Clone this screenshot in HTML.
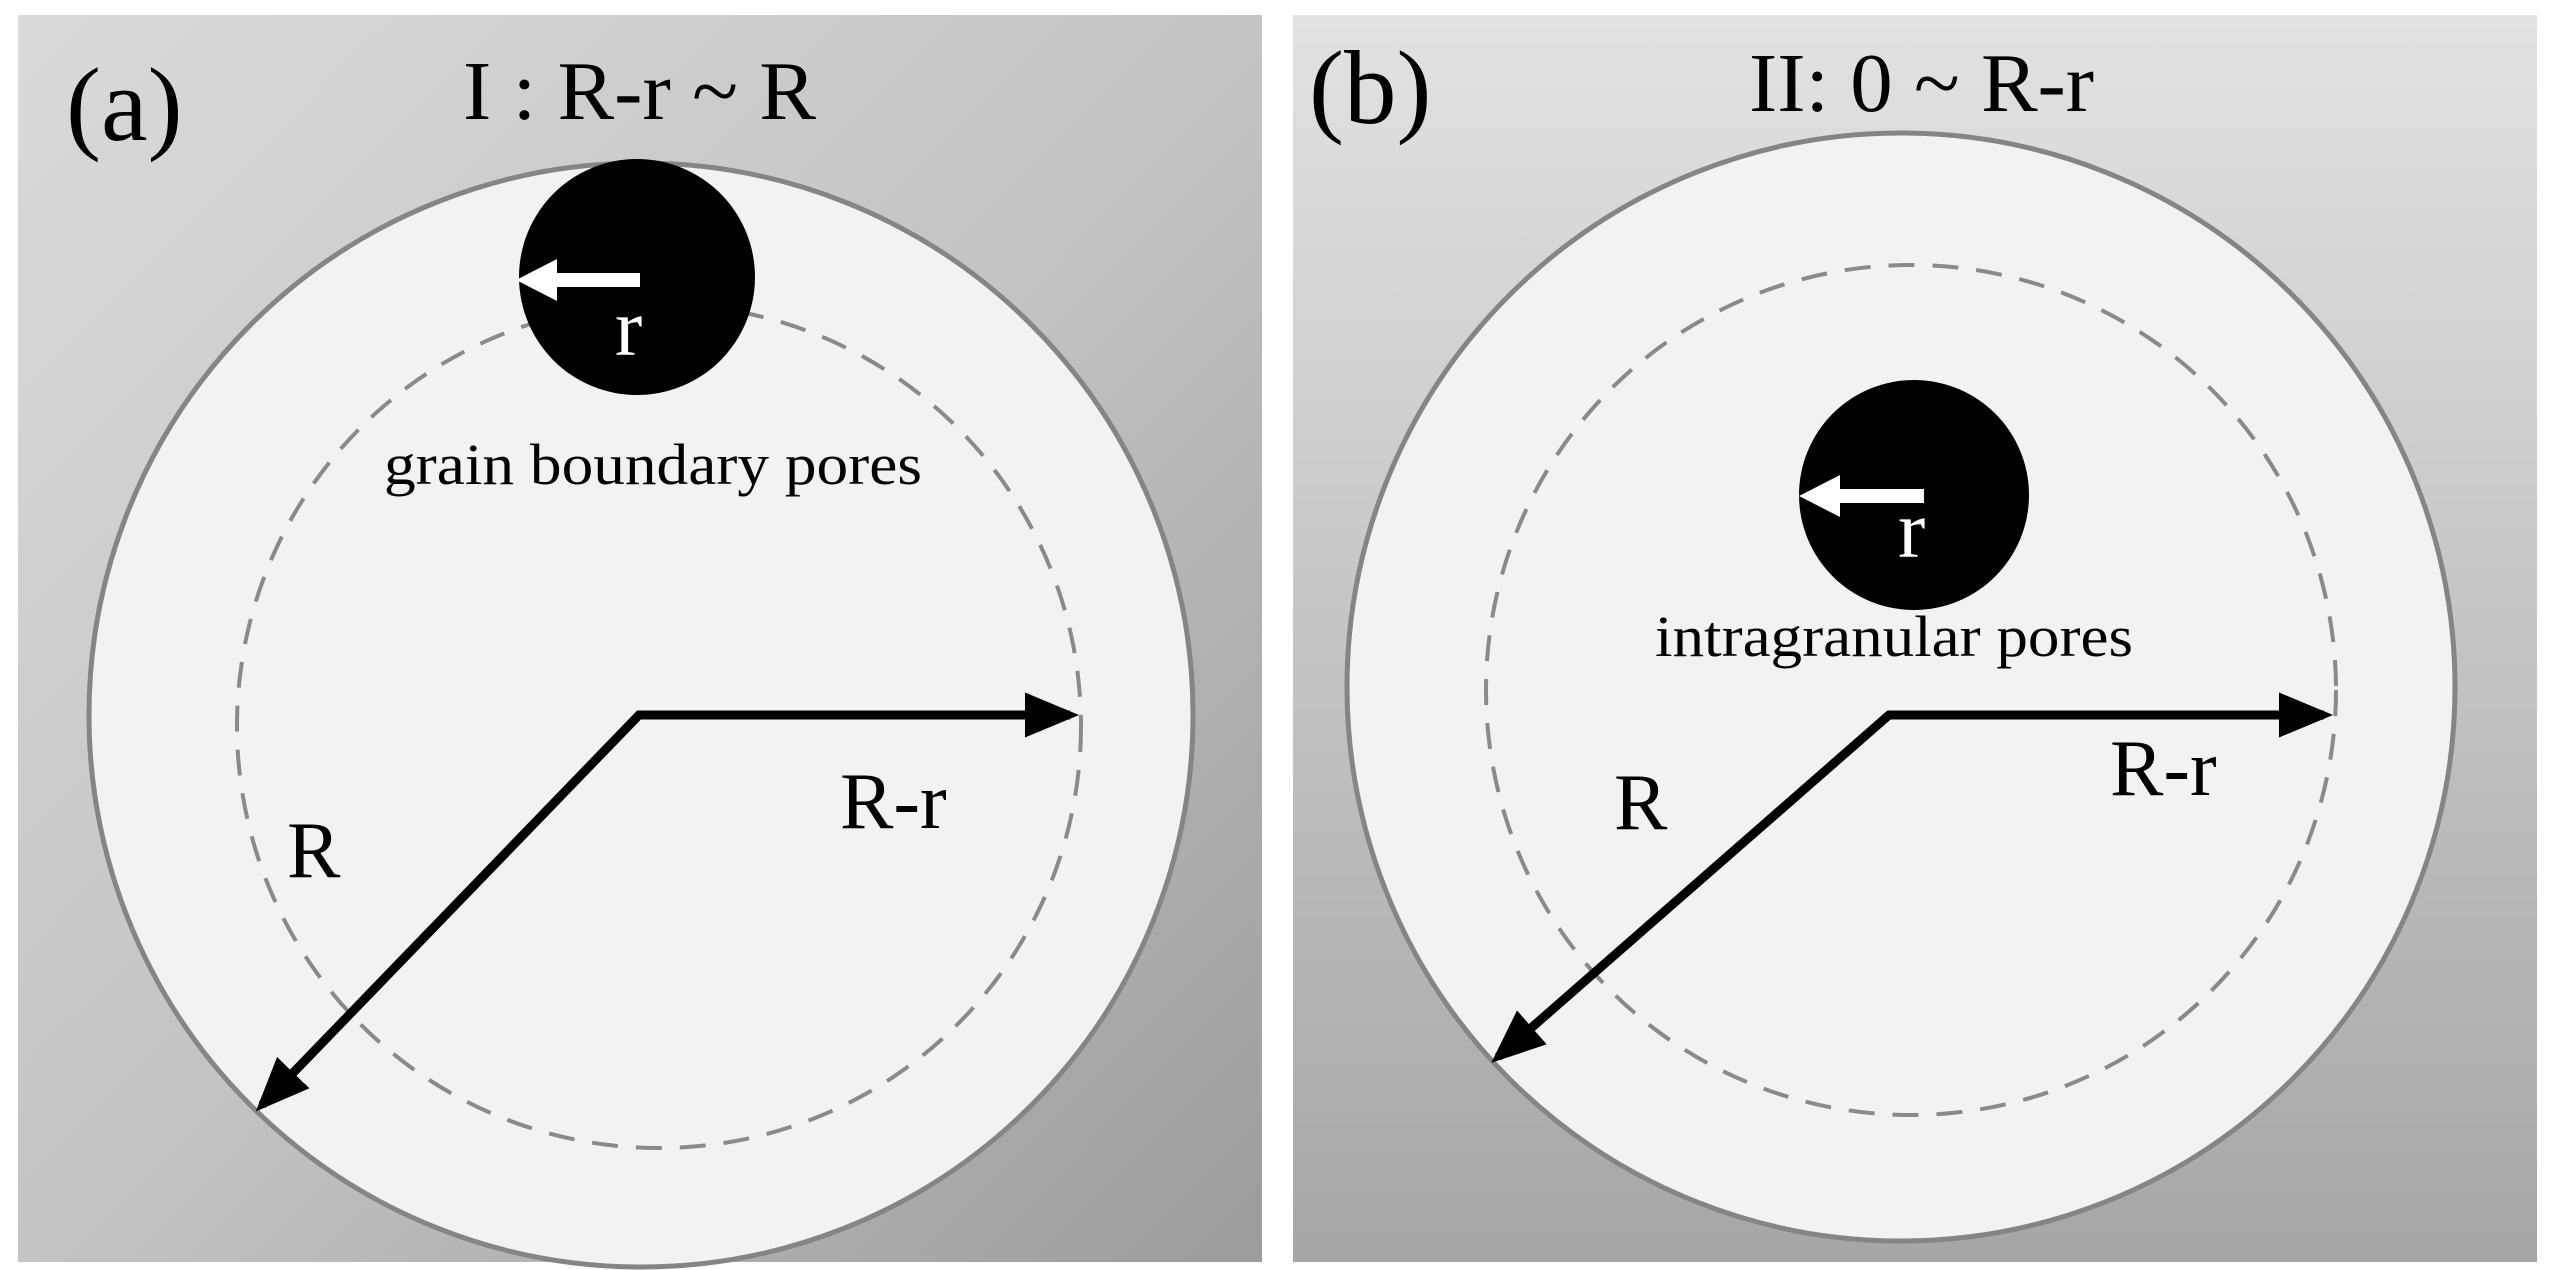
<!DOCTYPE html>
<html><head><meta charset="utf-8"><style>html,body{margin:0;padding:0;background:#fff}svg{display:block}svg text{font-family:"Liberation Serif","Times New Roman",serif}</style></head>
<body>
<svg width="2549" height="1270" viewBox="0 0 2549 1270" xmlns="http://www.w3.org/2000/svg">
<defs>
<linearGradient id="ga" x1="0" y1="0" x2="1" y2="1">
<stop offset="0" stop-color="#dadada"/><stop offset="0.5" stop-color="#c4c4c4"/><stop offset="1" stop-color="#9c9c9c"/>
</linearGradient>
<linearGradient id="gb" x1="0" y1="0" x2="0" y2="1">
<stop offset="0" stop-color="#e2e2e2"/><stop offset="1" stop-color="#a6a6a6"/>
</linearGradient>
<marker id="ab" markerWidth="6" markerHeight="5" refX="5" refY="2.5" orient="auto-start-reverse" markerUnits="strokeWidth"><path d="M0,0 L6,2.5 L0,5 z" fill="#000"/></marker>
</defs>
<rect x="18" y="15" width="1244" height="1247" fill="url(#ga)"/>
<rect x="1293" y="15" width="1244" height="1247" fill="url(#gb)"/>

<!-- panel a -->
<circle cx="641" cy="715" r="552" fill="#f2f2f2" stroke="#858585" stroke-width="5"/>
<circle cx="659" cy="726" r="422" fill="none" stroke="#8a8a8a" stroke-width="4" stroke-dasharray="26 18"/>
<circle cx="637" cy="277" r="118" fill="#000"/>
<rect x="555" y="273" width="85" height="14" fill="#fff"/>
<path d="M516,280 L557,259 L557,301 z" fill="#fff"/>
<text x="615" y="355" font-size="82" fill="#fff">r</text>
<polyline points="262,1105 639,715 1070,715" fill="none" stroke="#000" stroke-width="9" marker-start="url(#ab)" marker-end="url(#ab)"/>
<text x="384" y="484" font-size="58" textLength="538" lengthAdjust="spacingAndGlyphs">grain boundary pores</text>
<text x="840" y="828" font-size="80">R-r</text>
<text x="287" y="877" font-size="80">R</text>
<text x="66" y="140" font-size="105">(a)</text>
<text x="463" y="119" font-size="84" textLength="353" lengthAdjust="spacingAndGlyphs">I : R-r ~ R</text>

<!-- panel b -->
<circle cx="1901" cy="687" r="554" fill="#f2f2f2" stroke="#858585" stroke-width="5"/>
<circle cx="1911" cy="690" r="425" fill="none" stroke="#8a8a8a" stroke-width="4" stroke-dasharray="26 18"/>
<circle cx="1914" cy="495" r="115" fill="#000"/>
<rect x="1838" y="489" width="86" height="14" fill="#fff"/>
<path d="M1799,496 L1840,475 L1840,517 z" fill="#fff"/>
<text x="1898" y="557" font-size="82" fill="#fff">r</text>
<polyline points="1498,1057 1889,715 2324,715" fill="none" stroke="#000" stroke-width="9" marker-start="url(#ab)" marker-end="url(#ab)"/>
<text x="1655" y="656" font-size="58" textLength="478" lengthAdjust="spacingAndGlyphs">intragranular pores</text>
<text x="2110" y="795" font-size="80">R-r</text>
<text x="1614" y="829" font-size="80">R</text>
<text x="1309" y="123" font-size="105">(b)</text>
<text x="1749" y="111" font-size="84" textLength="345" lengthAdjust="spacingAndGlyphs">II: 0 ~ R-r</text>
</svg>
</body></html>
